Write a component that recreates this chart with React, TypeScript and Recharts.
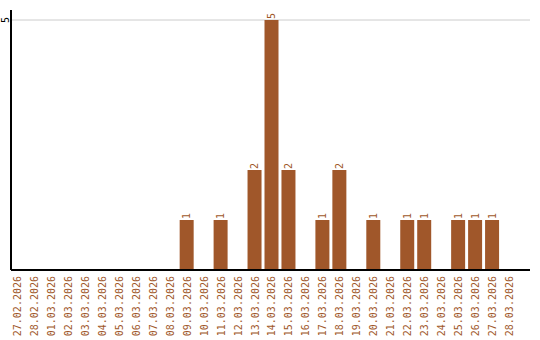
import { Bar, BarChart, CartesianGrid, LabelList, XAxis, YAxis } from 'recharts'

const dates = [
  '27.02.2026', '28.02.2026', '01.03.2026', '02.03.2026', '03.03.2026', '04.03.2026',
  '05.03.2026', '06.03.2026', '07.03.2026', '08.03.2026', '09.03.2026', '10.03.2026',
  '11.03.2026', '12.03.2026', '13.03.2026', '14.03.2026', '15.03.2026', '16.03.2026',
  '17.03.2026', '18.03.2026', '19.03.2026', '20.03.2026', '21.03.2026', '22.03.2026',
  '23.03.2026', '24.03.2026', '25.03.2026', '26.03.2026', '27.03.2026', '28.03.2026',
]
const counts = [0, 0, 0, 0, 0, 0, 0, 0, 0, 0, 1, 0, 1, 0, 2, 5, 2, 0, 1, 2, 0, 1, 0, 1, 1, 0, 1, 1, 1, 0]

const data = dates.map((d, i) => ({ date: d, count: counts[i] }))

const BROWN = '#a0572a'
const FONT = '"DejaVu Sans Mono", monospace'

const DateTick = ({ x, payload }: any) => (
  <text
    x={0}
    y={0}
    transform={`translate(${x + 3.5},${276}) rotate(-90)`}
    textAnchor="end"
    fill={BROWN}
    fontSize={10}
    fontFamily={FONT}
  >
    {payload.value}
  </text>
)

const CountTick = ({ y, payload }: any) => (
  <text
    x={0}
    y={0}
    transform={`translate(${9},${y}) rotate(-90)`}
    textAnchor="middle"
    fill="#000"
    fontSize={10}
    fontFamily={FONT}
  >
    {payload.value}
  </text>
)

const ValueLabel = ({ x, y, width, value }: any) => {
  if (!value) return null
  return (
    <text
      x={0}
      y={0}
      transform={`translate(${x + width / 2 + 3.5},${y - 1}) rotate(-90)`}
      textAnchor="start"
      fill={BROWN}
      fontSize={10}
      fontFamily={FONT}
    >
      {value}
    </text>
  )
}

export default function App() {
  return (
    <div style={{ position: 'absolute', left: 0, top: 0, background: '#fff' }}>
      <BarChart
        width={540}
        height={340}
        data={data}
        margin={{ top: 10, right: 10, bottom: 0, left: 0 }}
        barSize={14}
      >
        <CartesianGrid vertical={false} stroke="#cccccc" horizontalValues={[5]} />
        <XAxis
          dataKey="date"
          interval={0}
          height={70}
          tickLine={false}
          axisLine={{ stroke: '#000', strokeWidth: 2 }}
          tick={<DateTick />}
          padding={{ left: -2, right: 12 }}
        />
        <YAxis
          width={11}
          domain={[0, 5]}
          ticks={[5]}
          tickLine={false}
          axisLine={{ stroke: '#000', strokeWidth: 2 }}
          tick={<CountTick />}
          padding={{ top: 10, bottom: 0 }}
        />
        <Bar dataKey="count" fill={BROWN} isAnimationActive={false}>
          <LabelList dataKey="count" content={<ValueLabel />} />
        </Bar>
      </BarChart>
    </div>
  )
}
